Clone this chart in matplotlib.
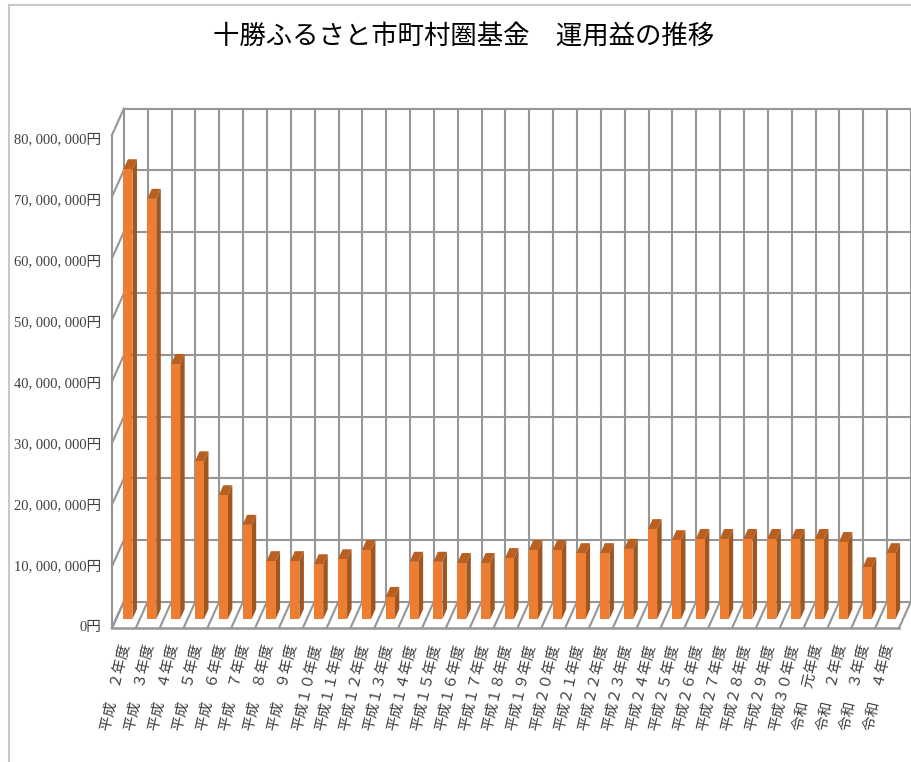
import numpy as np
import matplotlib
matplotlib.use('Agg')
import matplotlib.pyplot as plt
from matplotlib.transforms import ScaledTranslation

plt.rcParams['font.family'] = ['Noto Sans CJK JP', 'DejaVu Sans']

title = '十勝ふるさと市町村圏基金　運用益の推移'

# 年度ラベル
years = ['平成　２年度', '平成　３年度', '平成　４年度', '平成　５年度', '平成　６年度',
         '平成　７年度', '平成　８年度', '平成　９年度', '平成１０年度', '平成１１年度',
         '平成１２年度', '平成１３年度', '平成１４年度', '平成１５年度', '平成１６年度',
         '平成１７年度', '平成１８年度', '平成１９年度', '平成２０年度', '平成２１年度',
         '平成２２年度', '平成２３年度', '平成２４年度', '平成２５年度', '平成２６年度',
         '平成２７年度', '平成２８年度', '平成２９年度', '平成３０年度', '令和　元年度',
         '令和　２年度', '令和　３年度', '令和　４年度']

# 運用益(円) 画像から読み取り
profit = [73000000, 68200000, 41400000, 25600000, 20100000, 15300000, 9400000, 9400000,
          8900000, 9700000, 11200000, 3600000, 9300000, 9300000, 9100000, 9100000,
          9900000, 11200000, 11200000, 10700000, 10700000, 11400000, 14600000, 12800000,
          13000000, 13000000, 13000000, 13000000, 13000000, 13000000, 12500000, 8400000,
          10700000]

y_ticks = [0, 10000000, 20000000, 30000000, 40000000, 50000000, 60000000, 70000000, 80000000]
y_labels = ['0円', '10, 000, 000円', '20, 000, 000円', '30, 000, 000円', '40, 000, 000円',
            '50, 000, 000円', '60, 000, 000円', '70, 000, 000円', '80, 000, 000円']

GRID = '#969696'
FRONT = '#ed7d31'
SIDE = '#9f5620'
TOP = '#b95f20'
TEXT = '#404040'

W, H = 912, 762
fig = plt.figure(figsize=(W / 100, H / 100), dpi=100)
ax = fig.add_axes([112 / W, 1 - 628 / H, 787 / W, 493 / H])
ax.set_xlim(0, len(years))
ax.set_ylim(0, 80000000)
for s in ax.spines.values():
    s.set_visible(False)
ax.patch.set_alpha(0)

# 奥行き(データ単位)
depth_x = 0.5
depth_y = 4300000
n = len(years)
lw = 1.5

# 奥の壁・左の壁
for v in y_ticks:
    ax.plot([depth_x, n + depth_x], [v + depth_y, v + depth_y], color=GRID, lw=lw, zorder=1, clip_on=False)
    ax.plot([0, depth_x], [v, v + depth_y], color=GRID, lw=lw, zorder=1, clip_on=False)
for i in range(n + 1):
    ax.plot([i + depth_x, i + depth_x], [depth_y, 80000000 + depth_y], color=GRID, lw=lw, zorder=1, clip_on=False)
    ax.plot([i, i + depth_x], [0, depth_y], color=GRID, lw=lw, zorder=1, clip_on=False)
ax.plot([0, 0], [0, 80000000], color=GRID, lw=lw, zorder=1, clip_on=False)
ax.plot([0, n], [0, 0], color=GRID, lw=lw + 0.3, zorder=1, clip_on=False)

# 棒 (前面+側面+上面)
bar_w = 0.38
start_x = depth_x / 3
start_y = depth_y / 3
bar_dx = depth_x * 0.38
bar_dy = depth_y * 0.38
x = np.arange(n) + 0.5
ax.bar(x + start_x, profit, bar_w, bottom=start_y, color=FRONT, zorder=4, clip_on=False)
for xi, v in zip(x, profit):
    l = xi + start_x - bar_w / 2
    r = l + bar_w
    b = start_y
    t = b + v
    ax.fill([r, r + bar_dx, r + bar_dx, r], [b, b + bar_dy, t + bar_dy, t],
            color=SIDE, lw=0, zorder=3, clip_on=False)
    ax.fill([l, r, r + bar_dx, l + bar_dx], [t, t, t + bar_dy, t + bar_dy],
            color=TOP, lw=0, zorder=3, clip_on=False)

# 軸ラベル
ax.set_yticks(y_ticks)
ax.set_yticklabels(y_labels, fontsize=10.5, color=TEXT,
                   family=['Liberation Serif', 'Noto Sans CJK JP'])
ax.set_xticks(x)
ax.set_xticklabels(years, fontsize=10.6, color=TEXT, rotation=77,
                   ha='right', va='center', rotation_mode='anchor')
ax.tick_params(axis='both', length=0)
ax.tick_params(axis='x', pad=12)
ax.tick_params(axis='y', pad=8)

# 目盛り文字は元の図で少しずれている (上ほど下へ)
for v, lab in zip(y_ticks, ax.get_yticklabels()):
    off = (5 * v / 80000000 - 2.2) / fig.dpi
    lab.set_transform(lab.get_transform() + ScaledTranslation(0, -off, fig.dpi_scale_trans))
for lab in ax.get_xticklabels():
    lab.set_transform(lab.get_transform() + ScaledTranslation(3 / fig.dpi, 0, fig.dpi_scale_trans))

fig.text(464 / W, 1 - 36 / H, title, fontsize=19, color='black', ha='center', va='center')

# グラフ枠
fig.add_artist(plt.Line2D([9.5 / W, 9.5 / W], [0, 1 - 5 / H], color='#c8c8c8', lw=1.5))
fig.add_artist(plt.Line2D([9.5 / W, 1], [1 - 5 / H, 1 - 5 / H], color='#c8c8c8', lw=1.5))

fig.savefig('out.png', dpi=100)
